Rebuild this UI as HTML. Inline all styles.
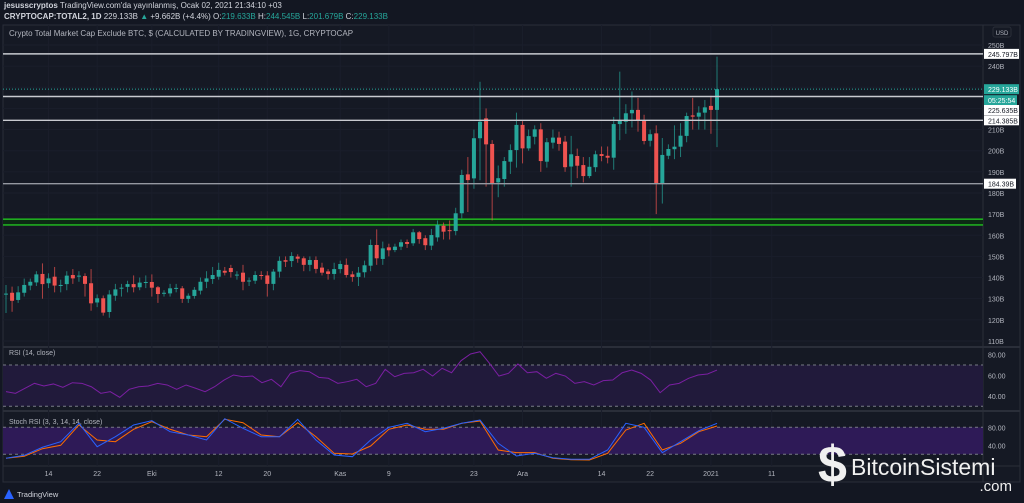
<!DOCTYPE html>
<html><head><meta charset="utf-8"><style>
body{margin:0;background:#131722;width:1024px;height:503px;overflow:hidden;font-family:"Liberation Sans",sans-serif}
.hd{position:absolute;left:4px;color:#d1d4dc;font-size:8px;white-space:nowrap}
</style></head><body>
<div class="hd" style="top:1px"><b>jesusscryptos</b> TradingView.com'da yayınlanmış, Ocak 02, 2021 21:34:10 +03</div>
<div class="hd" style="top:12px"><b>CRYPTOCAP:TOTAL2, 1D</b> 229.133B <span style="color:#26a69a">▲</span> +9.662B (+4.4%) O:<span style="color:#26a69a">219.633B</span> H:<span style="color:#26a69a">244.545B</span> L:<span style="color:#26a69a">201.679B</span> C:<span style="color:#26a69a">229.133B</span></div>
<svg id="c" width="1024" height="503" style="position:absolute;left:0;top:0"></svg>
<script>
const openV=[132.0,132.8,129.4,132.8,136.2,137.7,141.7,137.3,140.4,136.0,136.9,141.2,140.6,140.7,137.3,128.2,130.2,123.7,131.4,134.8,135.6,136.9,135.4,137.7,137.9,135.4,132.6,132.5,134.9,134.9,129.9,131.3,133.8,138.0,139.3,140.4,143.2,144.5,141.1,142.3,138.4,138.5,141.2,141.0,137.0,142.8,148.2,147.8,149.9,149.1,146.0,148.3,144.7,142.9,141.7,144.0,146.0,141.5,140.3,142.5,145.6,155.4,148.8,154.3,153.0,154.6,156.8,156.2,161.4,158.6,155.1,159.0,164.5,162.4,162.0,170.4,188.8,186.9,205.9,215.3,203.2,185.0,186.6,194.8,200.3,212.2,201.1,206.6,210.1,194.8,203.8,206.2,204.3,192.5,197.5,193.2,188.0,192.2,198.4,197.6,196.7,212.6,213.7,217.7,219.3,214.5,204.7,208.2,184.2,197.6,200.7,201.9,207.0,216.7,216.1,218.0,221.2,219.3];
const closeV=[132.4,129.0,133.0,136.5,138.0,141.5,136.9,139.6,136.2,136.5,140.9,139.6,140.9,137.0,127.8,130.2,123.4,132.0,134.4,135.2,136.9,135.4,137.6,137.9,135.2,132.2,132.8,134.9,135.1,129.9,131.4,134.2,138.0,139.6,141.2,143.6,142.3,142.6,141.4,138.0,138.6,141.2,141.0,137.0,142.8,147.9,147.5,150.2,148.9,146.0,148.3,144.1,142.3,141.7,144.0,146.4,141.2,140.3,142.3,145.8,155.4,149.1,153.8,152.9,154.6,156.7,155.9,161.4,158.2,155.3,160.1,164.9,161.7,162.1,170.4,188.5,186.1,205.9,213.7,203.0,184.6,187.0,195.1,200.3,212.2,201.1,206.9,210.1,195.1,204.0,206.2,203.2,192.2,198.3,192.9,188.0,192.4,198.3,197.5,196.7,212.6,214.1,217.7,219.3,214.5,204.6,207.8,184.6,198.0,200.8,201.9,207.1,216.4,216.1,218.0,220.5,219.3,229.1];
const highV=[136.5,135.7,135.9,139.5,139.5,143,146.7,142,145,139,143,144,143,142,144,132,131.5,134,137,137,138.5,141,140,141,141.5,136,134,137,137,136,132.5,135.5,140,143,145,147,145,146,143,146,140,143,143,143,144,150,150,152,151,150,150,150,147,144,147,148,149,143,145,148,158,162.8,157,156,156,158,158,163,162,160,163,167,166,167,173,191,197,210,232.6,220,205,193,197,203,218,214,210,212,213,206,210,209,207,207,201,197,197,200,202,202,216,237.4,222,228,225,217,210,212,206,203,212,213,218,225,221,224,226,244.5];
const lowV=[123.2,123.8,128,131,134,136,130,135,133,133,134,137,138,131,124.3,126,122,121,129,131,133,133,134,135,131,128,131,131,133,128,128,130,132,135,137,139,141,140,139,134,136,137,139,131,134,140,145,145,147,143,143,142,141,139,139,142,140,138,136,140,143,146,146,150,152,153,154,155,156,153,153,157,158,158,160,168,171,182,186,183,167,178,183,189,192,194,200,203,190,192,201,200,190,183,187,185,187,190,195,194,191,205,208,211,209,203,202,170,175,196,196,197,204,210,210,210,208,201.7];
const priceTicks=[250,240,230,220,210,200,190,180,170,160,150,140,130,120,110];
const levelLines=[245.797,225.635,214.385,184.39];
const levelLabels=["245.797B","225.635B","214.385B","184.39B"];
const greenZone=[167.6,164.9];
const dateLabels=["14","22","Eki","12","20","Kas","9","23","Ara","14","22","2021","11"];
const dateIdx=[7,15,24,35,43,55,63,77,85,98,106,116,126];
const rsiV=[44.1,42.5,47.4,52.2,49.6,51.6,48.3,52.8,52.2,48.9,42.5,44.1,38.6,46.4,48.9,49.6,52.2,50.6,46.4,50.6,47.4,44.1,48.9,55.4,60.3,58.6,59.3,52.8,56.1,48.9,61.9,64.5,63.5,58,57.1,52.2,53.8,56.1,48.9,52.2,65.8,58.6,61.9,62.5,65.8,59.3,66.8,62.5,74.2,80.7,82.9,71.6,59.3,61.9,71,62.5,63.5,57.1,61.9,59.3,52.2,53.8,50.6,54.8,55.4,62.5,65.1,61.9,55.4,43.1,50.6,52.2,57.1,60.3,61.3,65.1];
const stochK=[11.1,17.8,35.6,48,88.9,36.9,59.1,85.1,94.7,70.2,62.9,51.8,99.1,77.8,59.1,59.1,97.8,51.8,18.4,14.7,51.8,80,88.9,70.2,77.8,88.9,96.2,44.4,16.2,22.2,12.4,8.9,8.9,29.6,88.9,80,23.6,48,72.4,88.9];
const stochD=[11.1,15.6,32.4,40,85.1,51.8,48,75.6,92.4,75.6,62.9,59.1,97.8,90.2,62.9,59.1,90.2,59.1,22.2,20.7,38.4,75.6,85.1,75.6,75.6,88.9,94,29.6,23.6,23.6,11.1,8,7.3,22.2,74,88.9,29.6,44.4,70.2,82.9];

const svg=document.getElementById('c');const NS='http://www.w3.org/2000/svg';
function mk(t,a,p){const e=document.createElementNS(NS,t);for(const k in a)e.setAttribute(k,a[k]);(p||svg).appendChild(e);return e;}
const xOf=i=>6+i*6.077;
const yP=v=>45+(250-v)*2.114;
const yR=v=>354.7+(80-v)*1.03;
const yS=v=>427.3+(80-v)*0.45;
let e;
e=mk('rect',{x:3,y:25,width:1017,height:457,fill:'#151924',stroke:'#2a2e39'});

mk('line',{x1:983,y1:25,x2:983,y2:482,stroke:'#2a2e39'});
mk('line',{x1:3,y1:347,x2:1020,y2:347,stroke:'#2a2e39',"stroke-width":2});
mk('line',{x1:3,y1:411,x2:1020,y2:411,stroke:'#2a2e39',"stroke-width":2});
mk('line',{x1:3,y1:466,x2:1020,y2:466,stroke:'#2a2e39'});
priceTicks.forEach(v=>{mk('line',{x1:3,y1:yP(v),x2:983,y2:yP(v),stroke:'#1a1e2b'});
 e=mk('text',{x:988,y:yP(v)+3,fill:'#b2b5be','font-size':7});e.textContent=v+'B';
 });
dateIdx.forEach((d,k)=>{const x=xOf(d);mk('line',{x1:x,y1:25,x2:x,y2:466,stroke:'#1a1e2b'});
 e=mk('text',{x:x,y:476,fill:'#b2b5be','font-size':7,'text-anchor':'middle'});e.textContent=dateLabels[k];
 });
e=mk('text',{x:9,y:36,fill:'#b2b5be','font-size':8});e.textContent='Crypto Total Market Cap Exclude BTC, $ (CALCULATED BY TRADINGVIEW), 1G, CRYPTOCAP';

mk('rect',{x:993,y:27,width:18,height:10,rx:2,fill:'none',stroke:'#2a2e39'});
e=mk('text',{x:1002,y:35,fill:'#b2b5be','font-size':6,'text-anchor':'middle'});e.textContent='USD';
e=mk('rect',{x:3,y:yP(greenZone[0]),width:980,height:yP(greenZone[1])-yP(greenZone[0]),fill:'#0c2a14'});

greenZone.forEach(v=>mk('line',{x1:3,y1:yP(v),x2:983,y2:yP(v),stroke:'#1faa1f','stroke-width':1.6}));
for(let i=0;i<openV.length;i++){const up=closeV[i]>=openV[i];const c=up?'#26a69a':'#ef5350';const x=xOf(i);
 const g=mk('g',{});
 mk('line',{x1:x,y1:yP(highV[i]),x2:x,y2:yP(lowV[i]),stroke:c,'stroke-width':1,opacity:0.7},g);
 const t=yP(Math.max(openV[i],closeV[i])),b=yP(Math.min(openV[i],closeV[i]));
 mk('rect',{x:x-2,y:t,width:4,height:Math.max(1,b-t),fill:c},g);}
levelLines.forEach((v,k)=>{e=mk('line',{x1:3,y1:yP(v),x2:983,y2:yP(v),stroke:k==3?'#9598a1':'#c8cad0','stroke-width':1.4});
 });
const last=closeV[closeV.length-1];
mk('line',{x1:3,y1:yP(last),x2:983,y2:yP(last),stroke:'#26a69a','stroke-dasharray':'1,2'});
function lab(y,txt,bg,fg,w){mk('rect',{x:984,y:y-5,width:w||35,height:10,fill:bg});e=mk('text',{x:988,y:y+3,fill:fg,'font-size':7});e.textContent=txt;
 }
lab(yP(levelLines[0]),levelLabels[0],'#fff','#131722');
lab(yP(last),'229.133B','#26a69a','#fff');
lab(yP(last)+11,'05:25:54','#26a69a','#fff',33);
lab(110,levelLabels[1],'#fff','#131722');
lab(yP(levelLines[2]),levelLabels[2],'#fff','#131722');
lab(yP(levelLines[3]),levelLabels[3],'#fff','#131722',32);
mk('rect',{x:3,y:yR(70),width:980,height:yR(30)-yR(70),fill:'#211a3b'});
[70,30].forEach(v=>mk('line',{x1:3,y1:yR(v),x2:983,y2:yR(v),stroke:'#787b86','stroke-dasharray':'3,3'}));
[80,60,40].forEach(v=>{e=mk('text',{x:988,y:yR(v)+3,fill:'#b2b5be','font-size':7});e.textContent=v.toFixed(2);});
e=mk('text',{x:9,y:355,fill:'#b2b5be','font-size':7});e.textContent='RSI (14, close)';

const rsiIdx=k=>k*117/(rsiV.length-1);
e=mk('polyline',{points:rsiV.map((v,k)=>xOf(rsiIdx(k))+','+yR(v)).join(' '),fill:'none',stroke:'#7b1fa2','stroke-width':1});

mk('rect',{x:3,y:yS(80),width:980,height:yS(20)-yS(80),fill:'#2e1a57'});
[80,20].forEach(v=>mk('line',{x1:3,y1:yS(v),x2:983,y2:yS(v),stroke:'#787b86','stroke-dasharray':'3,3'}));
[80,40].forEach(v=>{e=mk('text',{x:988,y:yS(v)+3,fill:'#b2b5be','font-size':7});e.textContent=v.toFixed(2);});
e=mk('text',{x:9,y:424,fill:'#b2b5be','font-size':7});e.textContent='Stoch RSI (3, 3, 14, 14, close)';

const stIdx=k=>k*3;
e=mk('polyline',{points:stochD.map((v,k)=>xOf(stIdx(k))+','+yS(v)).join(' '),fill:'none',stroke:'#ff6d00','stroke-width':1});

e=mk('polyline',{points:stochK.map((v,k)=>xOf(stIdx(k))+','+yS(v)).join(' '),fill:'none',stroke:'#2962ff','stroke-width':1});

e=mk('path',{d:'M4 499 L9 489 L14 499 Z',fill:'#2962ff'});
e=mk('text',{x:17,y:497,fill:'#d1d4dc','font-size':7.5});e.textContent='TradingView';

e=mk('text',{x:818,y:482,fill:'#f0f0f0','font-size':52,'font-weight':'bold'});e.textContent='$';

e=mk('text',{x:851,y:475,fill:'#f0f0f0','font-size':23});e.textContent='BitcoinSistemi';

e=mk('text',{x:1012,y:491,fill:'#f0f0f0','font-size':15,'text-anchor':'end'});e.textContent='.com';
</script>
</body></html>
